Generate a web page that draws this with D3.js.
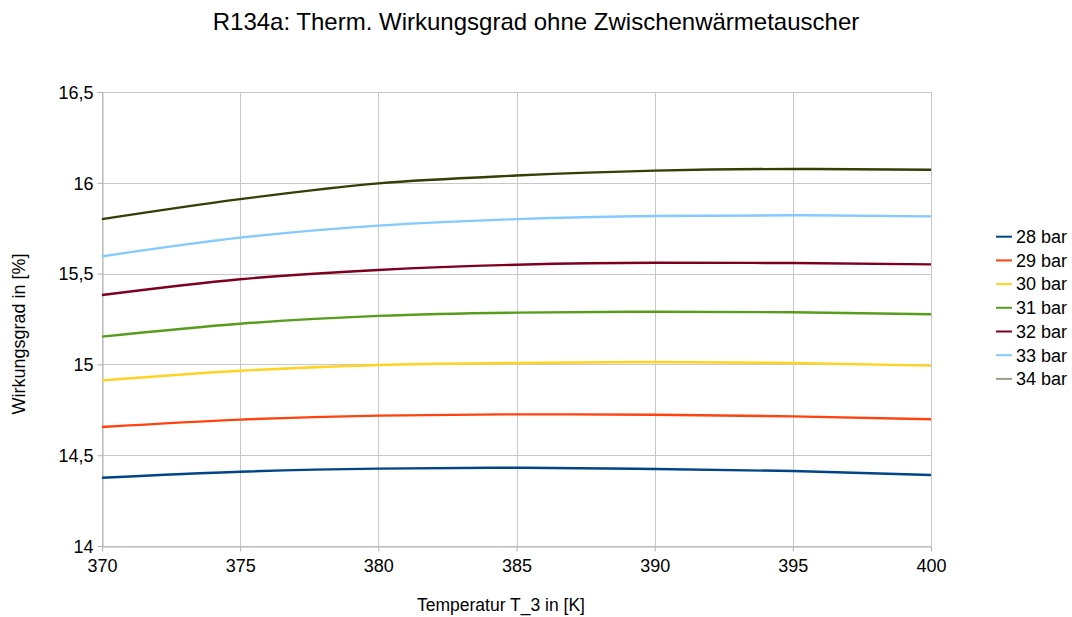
<!DOCTYPE html>
<html><head><meta charset="utf-8">
<script src="https://cdn.jsdelivr.net/npm/d3@7"></script>
<style>body{margin:0;background:#fff}svg{display:block}text{font-family:"Liberation Sans",Arial,sans-serif;fill:#000}</style>
</head><body><svg id="c" width="1072" height="617"></svg>
<script>
const temps = [370, 375, 380, 385, 390, 395, 400];
const seriesNames = ["28 bar","29 bar","30 bar","31 bar","32 bar","33 bar","34 bar"];
const s28 = [14.376, 14.409, 14.426, 14.431, 14.424, 14.413, 14.391];
const s29 = [14.655, 14.696, 14.718, 14.725, 14.723, 14.714, 14.698];
const s30 = [14.912, 14.965, 14.997, 15.008, 15.013, 15.008, 14.993];
const s31 = [15.153, 15.224, 15.267, 15.285, 15.290, 15.287, 15.276];
const s32 = [15.382, 15.469, 15.520, 15.549, 15.560, 15.558, 15.551];
const s33 = [15.595, 15.698, 15.764, 15.800, 15.817, 15.821, 15.815];
const s34 = [15.800, 15.910, 15.997, 16.040, 16.067, 16.076, 16.072];
const colors = ["#004586","#ff420e","#ffd320","#579d1c","#7e0021","#83caff","#314004"];
const legendColors = ["#004586","#ff420e","#ffd320","#579d1c","#7e0021","#83caff","#9ca08a"];
const xTicks = [370,375,380,385,390,395,400];
const yTicks = [14,14.5,15,15.5,16,16.5];
const title = "R134a: Therm. Wirkungsgrad ohne Zwischenwärmetauscher";
const xTitle = "Temperatur T_3 in [K]";
const yTitle = "Wirkungsgrad in [%]";

const allSeries = [s28,s29,s30,s31,s32,s33,s34];
const svg = d3.select("#c");
const L=102, R=931, T=92, B=546;
const x = d3.scaleLinear().domain([370,400]).range([L,R]);
const y = d3.scaleLinear().domain([14,16.5]).range([B,T]);
const fmt = v => String(v).replace(".", ",");

// grid
svg.append("g").selectAll("line").data(yTicks).join("line")
  .attr("x1",L).attr("x2",R).attr("y1",d=>Math.round(y(d))+0.5).attr("y2",d=>Math.round(y(d))+0.5)
  .attr("stroke","#c8c8c8").attr("stroke-width",1);
svg.append("g").selectAll("line").data(xTicks).join("line")
  .attr("y1",T).attr("y2",B).attr("x1",d=>Math.round(x(d))+0.5).attr("x2",d=>Math.round(x(d))+0.5)
  .attr("stroke","#c8c8c8").attr("stroke-width",1);

// axes
const ya = svg.append("g").attr("transform",`translate(${L+0.5},0)`)
  .call(d3.axisLeft(y).tickValues(yTicks).tickFormat(fmt).tickSize(5).tickSizeOuter(0));
const xa = svg.append("g").attr("transform",`translate(0,${B+0.5})`)
  .call(d3.axisBottom(x).tickValues(xTicks).tickFormat(d=>d).tickSize(5).tickSizeOuter(0));
[ya,xa].forEach(a=>{
  a.select(".domain").attr("stroke","#b3b3b3");
  a.selectAll(".tick line").attr("stroke","#b3b3b3");
  a.selectAll("text").attr("font-size",18).attr("font-family","Liberation Sans, Arial, sans-serif").attr("fill","#000");
});
ya.selectAll("text").attr("x",-9).attr("dy","0.35em");
xa.selectAll("text").attr("y",13);

// lines
const line = d3.line().x((d,i)=>x(temps[i])).y(d=>y(d)).curve(d3.curveMonotoneX);
svg.append("g").selectAll("path").data(allSeries).join("path")
  .attr("d",d=>line(d)).attr("fill","none").attr("stroke",(d,i)=>colors[i]).attr("stroke-width",2.4);

// titles
svg.append("text").attr("x",536).attr("y",30).attr("text-anchor","middle").attr("font-size",24).text(title);
svg.append("text").attr("x",501).attr("y",611).attr("text-anchor","middle").attr("font-size",17.5).text(xTitle);
svg.append("text").attr("transform","translate(25,334) rotate(-90)").attr("text-anchor","middle").attr("font-size",18).text(yTitle);

// legend
const lg = svg.append("g").selectAll("g").data(seriesNames).join("g")
  .attr("transform",(d,i)=>`translate(996,${236.7+i*23.7})`);
lg.append("line").attr("x1",0).attr("x2",16).attr("y1",0).attr("y2",0).attr("stroke",(d,i)=>legendColors[i]).attr("stroke-width",2);
lg.append("text").attr("x",20).attr("dy","0.35em").attr("font-size",18).text(d=>d);
</script></body></html>
